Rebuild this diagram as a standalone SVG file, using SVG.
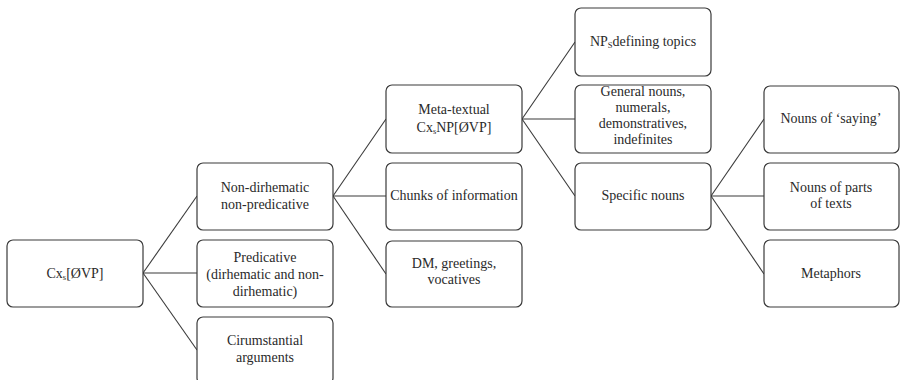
<svg xmlns="http://www.w3.org/2000/svg" width="900" height="380" viewBox="0 0 900 380">
  <style>
    .box { fill: #ffffff; stroke: #3a3a3a; stroke-width: 1.2; }
    .lbl { font-family: 'Liberation Serif', 'Times New Roman', 'DejaVu Serif', serif; font-size: 14px; fill: #2a2a2a; text-anchor: middle; }
    .sub { font-size: 8.5px; }
    #connectors line { stroke: #3a3a3a; stroke-width: 1.1; }
  </style>
  <rect width="900" height="380" fill="#ffffff"/>

  <g id="connectors">
    <!-- root to level 1 -->
    <line x1="143" y1="273" x2="197" y2="196"/>
    <line x1="143" y1="273" x2="197" y2="273"/>
    <line x1="143" y1="273" x2="197" y2="350"/>
    <!-- non-predicative to level 2 -->
    <line x1="333" y1="196" x2="386" y2="119"/>
    <line x1="333" y1="196" x2="386" y2="196"/>
    <line x1="333" y1="196" x2="386" y2="274"/>
    <!-- meta-textual to level 3 -->
    <line x1="522" y1="119" x2="575" y2="42"/>
    <line x1="522" y1="119" x2="575" y2="119"/>
    <line x1="522" y1="119" x2="575" y2="196"/>
    <!-- specific nouns to level 4 -->
    <line x1="711" y1="196" x2="764" y2="119"/>
    <line x1="711" y1="196" x2="764" y2="196"/>
    <line x1="711" y1="196" x2="764" y2="274"/>
  </g>

  <g id="root">
    <rect class="box" x="7" y="240" width="136" height="67" rx="6"/>
    <text class="lbl" x="75" y="278">Cx<tspan class="sub" dy="2">s</tspan><tspan dy="-2">[ØVP]</tspan></text>
  </g>

  <g id="non-predicative">
    <rect class="box" x="197" y="163" width="136" height="67" rx="6"/>
    <text class="lbl" x="265" y="192">Non-dirhematic</text>
    <text class="lbl" x="265" y="209">non-predicative</text>
  </g>
  <g id="predicative">
    <rect class="box" x="197" y="240" width="136" height="67" rx="6"/>
    <text class="lbl" x="265" y="262">Predicative</text>
    <text class="lbl" x="265" y="279">(dirhematic and non-</text>
    <text class="lbl" x="265" y="296">dirhematic)</text>
  </g>
  <g id="circumstantial">
    <rect class="box" x="197" y="317" width="136" height="67" rx="6"/>
    <text class="lbl" x="265" y="345">Cirumstantial</text>
    <text class="lbl" x="265" y="362">arguments</text>
  </g>

  <g id="meta-textual">
    <rect class="box" x="386" y="85" width="136" height="68" rx="6"/>
    <text class="lbl" x="454" y="114">Meta-textual</text>
    <text class="lbl" x="454" y="132">Cx<tspan class="sub" dy="2">s</tspan><tspan dy="-2">NP[ØVP]</tspan></text>
  </g>
  <g id="chunks">
    <rect class="box" x="386" y="163" width="136" height="67" rx="6"/>
    <text class="lbl" x="454" y="200">Chunks of information</text>
  </g>
  <g id="dm-greetings">
    <rect class="box" x="386" y="241" width="136" height="66" rx="6"/>
    <text class="lbl" x="454" y="268">DM, greetings,</text>
    <text class="lbl" x="454" y="284">vocatives</text>
  </g>

  <g id="np-topics">
    <rect class="box" x="575" y="8" width="136" height="68" rx="6"/>
    <text class="lbl" x="643" y="46">NP<tspan class="sub" dy="2">S</tspan><tspan dy="-2">defining topics</tspan></text>
  </g>
  <g id="general-nouns">
    <rect class="box" x="575" y="85" width="136" height="68" rx="6"/>
    <text class="lbl" x="643" y="96">General nouns,</text>
    <text class="lbl" x="643" y="112">numerals,</text>
    <text class="lbl" x="643" y="128">demonstratives,</text>
    <text class="lbl" x="643" y="144">indefinites</text>
  </g>
  <g id="specific-nouns">
    <rect class="box" x="575" y="163" width="136" height="67" rx="6"/>
    <text class="lbl" x="643" y="200">Specific nouns</text>
  </g>

  <g id="nouns-saying">
    <rect class="box" x="764" y="86" width="135" height="67" rx="6"/>
    <text class="lbl" x="831" y="123">Nouns of ‘saying’</text>
  </g>
  <g id="nouns-parts">
    <rect class="box" x="764" y="163" width="135" height="67" rx="6"/>
    <text class="lbl" x="831" y="192">Nouns of parts</text>
    <text class="lbl" x="831" y="208">of texts</text>
  </g>
  <g id="metaphors">
    <rect class="box" x="764" y="240" width="135" height="67" rx="6"/>
    <text class="lbl" x="831" y="278">Metaphors</text>
  </g>
</svg>
